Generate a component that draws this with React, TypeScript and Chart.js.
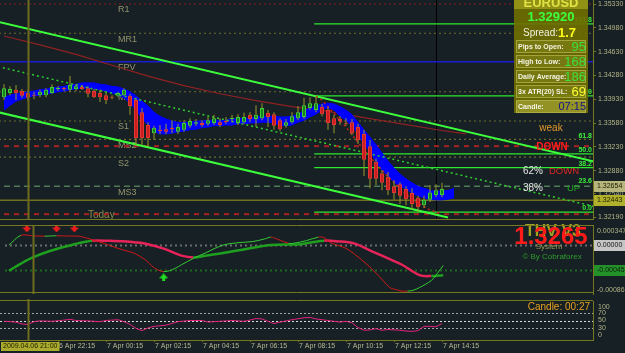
import React, { useEffect, useRef } from 'react';
import { Chart, registerables } from 'chart.js';

Chart.register(...registerables);
const FONT = '"Liberation Sans", Arial, sans-serif';
Chart.defaults.font.family = FONT;

const BG = '#172024';
const OLIVE = '#77771f';
const AXIS_TEXT = '#b2b286';

// ---------------- time axis ----------------
const timeTickBars = [9, 17, 25, 33, 41, 49, 57, 65, 73];
const timeTickLabels = ['6 Apr 22:15', '7 Apr 00:15', '7 Apr 02:15', '7 Apr 04:15', '7 Apr 06:15', '7 Apr 08:15', '7 Apr 10:15', '7 Apr 12:15', '7 Apr 14:15'];
const cursorBar = 4;
const cursorLabel = '2009.04.06 21:00';
const separatorBar = 72;

// ---------------- price (15 min candles) ----------------
const openP = [1.3396,1.3402,1.3407,1.3405,1.3402,1.3399,1.3399,1.3399,1.3402,1.3408,
  1.3409,1.3407,1.3408,1.3411,1.3409,1.3405,1.3402,1.3399,1.3396,1.3398,
  1.3399,1.3398,1.3392,1.3374,1.3355,1.3343,1.3348,1.3349,1.3351,1.3345,
  1.3348,1.3354,1.3357,1.3358,1.3357,1.3358,1.3359,1.3361,1.3364,1.3358,
  1.3359,1.3370,1.3364,1.3365,1.3373,1.3371,1.3362,1.3354,1.3359,1.3365,
  1.3367,1.3380,1.3377,1.3382,1.3377,1.3365,1.3364,1.3358,1.3359,1.3352,
  1.3342,1.3324,1.3301,1.3284,1.3279,1.3265,1.3268,1.3261,1.3255,1.3248,
  1.3237,1.3245,1.3252,1.3252];
const highP = [1.3415,1.3412,1.3414,1.3408,1.3407,1.3404,1.3407,1.3409,1.3415,1.3412,
  1.3411,1.3427,1.3415,1.3414,1.3412,1.3408,1.3407,1.3402,1.3399,1.3404,
  1.3409,1.3401,1.3395,1.3380,1.3359,1.3354,1.3355,1.3357,1.3362,1.3357,
  1.3362,1.3365,1.3364,1.3362,1.3367,1.3370,1.3365,1.3367,1.3370,1.3371,
  1.3373,1.3374,1.3384,1.3387,1.3377,1.3374,1.3365,1.3364,1.3374,1.3383,
  1.3395,1.3396,1.3398,1.3386,1.3382,1.3370,1.3368,1.3365,1.3364,1.3357,
  1.3348,1.3333,1.3306,1.3289,1.3286,1.3274,1.3271,1.3265,1.3262,1.3251,
  1.3251,1.3267,1.3268,1.3270];
const lowP = [1.3392,1.3399,1.3392,1.3395,1.3390,1.3393,1.3396,1.3396,1.3401,1.3405,
  1.3405,1.3404,1.3405,1.3407,1.3396,1.3395,1.3389,1.3386,1.3393,1.3396,
  1.3398,1.3370,1.3326,1.3326,1.3324,1.3333,1.3342,1.3342,1.3343,1.3342,
  1.3345,1.3351,1.3354,1.3352,1.3354,1.3355,1.3352,1.3357,1.3359,1.3355,
  1.3357,1.3359,1.3352,1.3362,1.3352,1.3348,1.3346,1.3351,1.3357,1.3362,
  1.3364,1.3377,1.3374,1.3368,1.3348,1.3343,1.3355,1.3354,1.3340,1.3327,
  1.3280,1.3262,1.3267,1.3259,1.3252,1.3245,1.3239,1.3237,1.3230,1.3227,
  1.3233,1.3242,1.3249,1.3249];
const closeP = [1.3409,1.3408,1.3402,1.3398,1.3395,1.3398,1.3404,1.3407,1.3411,1.3409,
  1.3408,1.3414,1.3412,1.3408,1.3401,1.3396,1.3396,1.3392,1.3395,1.3402,
  1.3407,1.3383,1.3336,1.3336,1.3336,1.3351,1.3346,1.3345,1.3349,1.3352,
  1.3358,1.3361,1.3359,1.3355,1.3362,1.3365,1.3355,1.3359,1.3365,1.3367,
  1.3367,1.3364,1.3370,1.3380,1.3367,1.3354,1.3349,1.3359,1.3368,1.3374,
  1.3384,1.3387,1.3387,1.3371,1.3358,1.3355,1.3361,1.3357,1.3343,1.3333,
  1.3304,1.3276,1.3276,1.3270,1.3259,1.3255,1.3251,1.3246,1.3239,1.3234,
  1.3245,1.3256,1.3259,1.3261];

// blue band (upper / lower edge per bar)
const bandUpper = [1.3396,1.3399,1.3401,1.3402,1.3404,1.3405,1.3407,1.3408,1.3409,1.3411,
  1.3412,1.3414,1.3415,1.3417,1.3417,1.3417,1.3415,1.3414,1.3412,1.3411,
  1.3408,1.3404,1.3398,1.3390,1.3383,1.3374,1.3368,1.3364,1.3361,1.3359,
  1.3359,1.3359,1.3361,1.3361,1.3362,1.3362,1.3362,1.3362,1.3364,1.3364,
  1.3365,1.3365,1.3367,1.3368,1.3368,1.3368,1.3367,1.3367,1.3368,1.3371,
  1.3376,1.3380,1.3383,1.3386,1.3387,1.3386,1.3382,1.3377,1.3370,1.3359,
  1.3348,1.3337,1.3326,1.3314,1.3302,1.3292,1.3283,1.3276,1.3270,1.3265,
  1.3262,1.3259,1.3258,1.3258,1.3259,1.3262];
const bandLower = [1.3377,1.3384,1.3390,1.3393,1.3396,1.3398,1.3399,1.3401,1.3402,1.3404,
  1.3405,1.3407,1.3408,1.3409,1.3409,1.3408,1.3407,1.3405,1.3402,1.3399,
  1.3395,1.3387,1.3377,1.3365,1.3355,1.3346,1.3342,1.3342,1.3343,1.3345,
  1.3346,1.3348,1.3349,1.3351,1.3352,1.3354,1.3354,1.3355,1.3355,1.3357,
  1.3357,1.3358,1.3358,1.3359,1.3359,1.3358,1.3355,1.3354,1.3355,1.3359,
  1.3362,1.3367,1.3371,1.3377,1.3380,1.3377,1.3368,1.3362,1.3354,1.3342,
  1.3327,1.3316,1.3301,1.3289,1.3280,1.3271,1.3265,1.3261,1.3255,1.3251,
  1.3248,1.3246,1.3245,1.3245,1.3246,1.3248];

// slow moving average (dark red)
const maBars = [0, 6, 12, 18, 24, 30, 36, 42, 48, 54, 60, 66, 73, 77];
const maValues = [1.3486, 1.3473, 1.3459, 1.3443, 1.3427, 1.3413, 1.3401, 1.3391, 1.3382, 1.3375, 1.3366, 1.3357, 1.3347, 1.3342];
// red dotted trailing line
const sarBars = [52, 53, 57, 60, 64, 68, 71, 73];
const sarValues = [1.3397, 1.3392, 1.3352, 1.3318, 1.3279, 1.3245, 1.3230, 1.3225];

// price axis
const priceMax = 1.35389;
const priceMin = 1.32154;
const priceTicks = [1.3533, 1.3498, 1.3463, 1.3428, 1.3393, 1.3358, 1.3323, 1.3288, 1.3254, 1.3219];
const priceMarkers = [1.32654, 1.32443];

// pivot levels
const pivotNames = ['R1', 'MR1', 'FPV', 'MS1', 'S1', 'MS2', 'S2', 'MS3'];
const pivotLevels = [1.3533, 1.3490, 1.3448, 1.3404, 1.3361, 1.3334, 1.3308, 1.3265];
const pivotLabelBar = 19;
const redDashLevels = [1.3324, 1.3224];
const dayOpenLevel = 1.32443;
const todayLabel = 'Today';
const todayLabelBar = 14;
const todayLabelPrice = 1.3223;

// trend channel (start bar, start price, end bar, end price)
const channelUpper = [-1, 1.3507, 99, 1.3300];
const channelMid = [-1, 1.3441, 99, 1.3234];
const channelLower = [-1, 1.3374, 74, 1.3219];

// fibonacci
const fibZero = 1.3227;
const fibFull = 1.3398;
const fibRatios = [0, 23.6, 38.2, 50, 61.8, 100, 161.8];
const fibLineRatios = [0, 38.2, 50, 100, 161.8];
const fibStartBar = 51.7;

// info panel
const symbol = 'EURUSD';
const quoteText = '1.32920';
const spreadLabel = 'Spread:';
const spreadText = '1.7';
const infoLabels = ['Pips to Open:', 'High to Low:', 'Daily Average:', '3x ATR(20) SL:', 'Candle:'];
const infoValues = ['95', '168', '186', '69', '07:15'];

// ---------------- oscillator ----------------
const oscMax = 0.000357;
const oscMin = -0.000869;
const fastBars = [0,2,4,6,7,8,10,12,14,16,18,20,21,22,23,24,25,26,27,28,29,31,33,36,39,41,43,44,45,47,48,50,52,53,54,56,57,59,61,63,64,65,66,67,68,69,71,72,73];
const fastValues = [0.0000,0.000173,0.000165,0.000158,0.000162,0.000166,0.000160,0.000155,0.000094,0.000030,
  -0.000047,-0.000110,-0.000141,-0.000200,-0.000267,-0.000370,-0.000440,-0.000471,-0.000455,-0.000410,
  -0.000350,-0.000236,-0.000141,0.000000,0.000047,0.000063,0.000110,0.000141,0.000110,0.000031,
  0.000035,0.000080,0.000141,0.000130,0.000047,-0.000030,-0.000079,-0.000236,-0.000424,-0.000644,
  -0.000754,-0.000790,-0.000816,-0.000818,-0.000801,-0.000754,-0.000628,-0.000502,-0.000361];
const slowBars = [0,2,4,7,11,14,17,19,21,23,26,29,31,33,36,41,44,49,51,53,55,58,61,64,66,69,71,73];
const slowValues = [-0.000455,-0.000330,-0.000220,-0.000100,0.000016,0.000079,0.000075,0.000070,0.000050,0.000024,
  -0.000063,-0.000188,-0.000220,-0.000190,-0.000141,-0.000047,0.000000,0.000016,0.000050,0.000079,
  0.000070,0.000031,-0.000110,-0.000250,-0.000345,-0.000534,-0.000550,-0.000534];
const oscLevels = [0, -0.00045];
const oscAxisValues = [0.000347, -0.00086];
const oscAxisText = ['0.000347', '-0.00086'];
const oscMarkerValues = [0, -0.00045];
const oscMarkerText = ['0.00000', '-0.00045'];
const sellArrowBars = [3, 8, 11];
const sellArrowValue = 0.000295;
const buyArrowBars = [26];
const buyArrowValue = -0.000574;
const systemTitle = 'THV V3';
const systemPrice = '1.3265';
const systemSub = 'System';
const systemCredit = '© By Cobraforex';

// ---------------- RSI ----------------
const rsiBars = [0,2,3,4,5,6,8,10,11,12,14,16,17,19,20,21,22,23,24,25,27,29,31,33,34,36,38,40,41,42,43,45,46,48,50,51,52,54,56,57,58,59,60,61,62,63,64,66,67,68,69,70,71,72,73];
const rsiValues = [48,46,41,40,47,49,48,51,53,50,49,47,50,52,47,40,30,24,31,35,38,47,50,50,46,48,50,48,51,55,54,42,46,52,57,58,54,50,46,48,44,32,25,26,29,25,27,25,23,22,24,35,35,34,42];
const rsiLevels = [70, 50, 30];
const rsiAxisValues = [100, 70, 50, 30, 0];
const candleTimer = 'Candle: 00:27';

// ---------------- geometry ----------------
const BAR_PX = 6;
const PLOT_W = 593;
const X_MIN = -4 / BAR_PX;
const X_MAX = X_MIN + PLOT_W / BAR_PX;
const AXIS_W = 32;

const pts = (xs: number[], ys: number[]) => xs.map((x, i) => ({ x, y: ys[i] }));
const seg = (s: number[]) => [{ x: s[0], y: s[1] }, { x: s[2], y: s[3] }];
const hline = (v: number, from = X_MIN - 1) => [{ x: from, y: v }, { x: X_MAX + 1, y: v }];
const fibLevel = (r: number) => fibZero + (fibFull - fibZero) * r / 100;

function line(data: any[], color: string, width: number, dash: number[] = [], order = 5, extra: any = {}) {
  return { type: 'line', data, borderColor: color, borderWidth: width, borderDash: dash, pointRadius: 0, fill: false, tension: 0, order, ...extra };
}

function txt(ctx: any, s: string, x: number, y: number, size: number, color: string, o: any = {}) {
  ctx.font = `${o.bold ? 'bold ' : ''}${size}px ${FONT}`;
  ctx.fillStyle = color;
  ctx.textAlign = o.align || 'left';
  ctx.textBaseline = o.baseline || 'middle';
  ctx.fillText(s, x, y);
}

function vline(ctx: any, x: number, top: number, bottom: number, color: string, width: number) {
  ctx.save();
  ctx.strokeStyle = color;
  ctx.lineWidth = width;
  ctx.beginPath();
  ctx.moveTo(x, top);
  ctx.lineTo(x, bottom);
  ctx.stroke();
  ctx.restore();
}

function hrule(ctx: any, y: number, left: number, right: number, color: string, width: number, dash: number[] = []) {
  ctx.save();
  ctx.strokeStyle = color;
  ctx.lineWidth = width;
  ctx.setLineDash(dash);
  ctx.beginPath();
  ctx.moveTo(left, y);
  ctx.lineTo(right, y);
  ctx.stroke();
  ctx.restore();
}

function axisBox(ctx: any, a: any, y: number, text: string, bg: string, fg: string) {
  ctx.fillStyle = bg;
  ctx.fillRect(a.right + 1, Math.round(y) - 5, AXIS_W, 11);
  txt(ctx, text, a.right + 4, Math.round(y) + 0.5, 7, fg);
}

const bgPlugin = {
  id: 'bgFill',
  beforeDraw(chart: any) {
    const { ctx, width, height } = chart;
    ctx.save();
    ctx.fillStyle = BG;
    ctx.fillRect(0, 0, width, height);
    ctx.restore();
  },
};

function xScaleHidden() {
  return { type: 'linear', min: X_MIN, max: X_MAX, display: false, offset: false };
}

function yAxisBase(min: number, max: number, showTicks: boolean) {
  return {
    type: 'linear',
    position: 'right',
    min,
    max,
    afterFit: (s: any) => { s.width = AXIS_W; s.paddingTop = 0; s.paddingBottom = 0; },
    ticks: { display: showTicks, color: AXIS_TEXT, font: { size: 7 }, padding: 2, autoSkip: false },
    grid: { display: showTicks, drawOnChartArea: false, color: OLIVE, tickLength: 3 },
    border: { display: true, color: OLIVE, width: 1 },
  };
}

const baseOpts = {
  responsive: false,
  animation: false,
  devicePixelRatio: 1,
  events: [],
  layout: { padding: 0 },
  plugins: { legend: { display: false }, tooltip: { enabled: false } },
};

function makeMain(canvas: HTMLCanvasElement) {
  const idx = openP.map((_, i) => i);
  const up = (i: number) => closeP[i] >= openP[i];
  const bandX = bandUpper.map((_, i) => i);
  const pivotColors = ['#8e1f1f', '#6d6d2c', '#1b1bd2', '#6d6d2c', '#6d6d2c', '#6d6d2c', '#6d6d2c', '#4f7a55'];
  const pivotDash = [[2, 3], [2, 3], [], [2, 3], [2, 3], [2, 3], [2, 3], [6, 4]];
  const pivotWidth = [1.2, 1.2, 1.5, 1.2, 1.2, 1.2, 1.2, 1.6];

  const datasets: any[] = [
    ...pivotLevels.map((lv, i) => line(hline(lv), pivotColors[i], pivotWidth[i], pivotDash[i], 20)),
    ...redDashLevels.map((lv) => line(hline(lv), '#a82222', 2, [5, 5], 19)),
    line(hline(dayOpenLevel), '#6f6f1e', 1.5, [], 19),
    ...fibLineRatios.map((r) => line(hline(fibLevel(r), fibStartBar), '#2ee82e', 1.2, [], 18)),
    line(pts(maBars, maValues), '#8e2222', 1.2, [], 15),
    { type: 'line', data: pts(bandX, bandUpper), borderColor: '#0000ff', borderWidth: 1, backgroundColor: '#0000ff', fill: '+1', pointRadius: 0, tension: 0.2, order: 6 },
    { type: 'line', data: pts(bandX, bandLower), borderColor: '#0000ff', borderWidth: 1, pointRadius: 0, fill: false, tension: 0.2, order: 6 },
    line(seg(channelUpper), '#3cff3c', 2, [], 3),
    line(seg(channelLower), '#3cff3c', 2, [], 3),
    line(seg(channelMid), '#2fcf2f', 1.5, [2, 3], 3),
    line(pts(sarBars, sarValues), '#c42222', 1.5, [2, 3], 2),
    {
      type: 'bar', data: idx.map((i) => ({ x: i, y: [lowP[i], highP[i]] })),
      backgroundColor: '#9a9a2c', barThickness: 1, grouped: false, order: 1, minBarLength: 1, inflateAmount: 0,
    },
    {
      type: 'bar', data: idx.map((i) => ({ x: i, y: [openP[i], closeP[i]] })),
      backgroundColor: idx.map((i) => (up(i) ? '#1b7f1b' : '#c81e1e')),
      borderColor: idx.map((i) => (up(i) ? '#3ccc3c' : '#e43434')),
      borderWidth: 1, borderSkipped: false, barThickness: 4, grouped: false, order: 0, minBarLength: 1, inflateAmount: 0,
    },
  ];

  const decor = {
    id: 'mainDecor',
    beforeDatasetsDraw(chart: any) {
      const { ctx, chartArea: a, scales } = chart;
      const xs = scales.x, ys = scales.y;
      ctx.save();
      vline(ctx, Math.round(xs.getPixelForValue(separatorBar)) + 0.5, a.top, a.bottom, '#000000', 1);
      pivotNames.forEach((n, i) => txt(ctx, n, xs.getPixelForValue(pivotLabelBar), ys.getPixelForValue(pivotLevels[i]) + 6, 9, '#93936c'));
      txt(ctx, todayLabel, xs.getPixelForValue(todayLabelBar), ys.getPixelForValue(todayLabelPrice), 10, '#8c8c4c');
      ctx.restore();
    },
    afterDatasetsDraw(chart: any) {
      const { ctx, chartArea: a, scales } = chart;
      const xs = scales.x, ys = scales.y;
      ctx.save();
      vline(ctx, Math.round(xs.getPixelForValue(cursorBar)) + 0.5, a.top, a.bottom, '#6c6c1c', 2);
      // fib labels
      fibRatios.forEach((r) => txt(ctx, r.toFixed(1), a.right - 1, ys.getPixelForValue(fibLevel(r)) - 4, 7, '#3cf03c', { align: 'right', bold: true }));
      // signal texts
      const R = a.right;
      txt(ctx, 'weak', R - 42, 128, 10, '#e39a2a', { align: 'center' });
      txt(ctx, 'DOWN', R - 41, 147, 10, '#ff1c1c', { align: 'center', bold: true });
      txt(ctx, '62%', R - 70, 171, 10, '#e6e6e6');
      txt(ctx, 'DOWN', R - 44, 171, 9.5, '#e32424');
      txt(ctx, '38%', R - 70, 188, 10, '#e6e6e6');
      txt(ctx, 'UP', R - 26, 188, 9.5, '#22aa22');
      // info box
      const x1 = R - 5, x0 = x1 - 74, w = x1 - x0;
      ctx.fillStyle = 'rgba(112,112,0,0.9)';
      ctx.fillRect(x0, 0, w, 113);
      ctx.fillStyle = 'rgba(150,150,24,0.9)';
      ctx.fillRect(x0, 0, w, 9);
      txt(ctx, symbol, x0 + w / 2, 7, 13, '#e2e244', { align: 'center', bold: true, baseline: 'alphabetic' });
      txt(ctx, quoteText, x0 + w / 2, 17.5, 13, '#3cff3c', { align: 'center', bold: true });
      txt(ctx, spreadLabel, x0 + 9, 33, 10, '#f2f2e0');
      txt(ctx, spreadText, x0 + 44, 33, 13, '#ffff1a', { bold: true });
      const valColors = ['#3ce03c', '#3ce03c', '#3ce03c', '#ffff33', '#12128c'];
      infoLabels.forEach((lab, i) => {
        const top = 40 + i * 15;
        ctx.fillStyle = i === 4 ? 'rgba(176,176,60,0.6)' : 'rgba(146,146,36,0.4)';
        ctx.fillRect(x0 + 2, top, w - 4, 13);
        ctx.strokeStyle = 'rgba(182,182,80,0.7)';
        ctx.lineWidth = 1;
        ctx.strokeRect(x0 + 2.5, top + 0.5, w - 5, 12);
        txt(ctx, lab, x0 + 4, top + 7, 7, '#f4f4e4', { bold: true });
        txt(ctx, infoValues[i], x1 - 2, top + 7, i === 4 ? 11 : 13, valColors[i], { align: 'right' });
      });
      ctx.restore();
    },
    afterDraw(chart: any) {
      const { ctx, chartArea: a, scales } = chart;
      const ys = scales.y;
      ctx.save();
      const bgs = ['#b6b67c', '#b0b02a'];
      priceMarkers.forEach((v, i) => axisBox(ctx, a, ys.getPixelForValue(v), v.toFixed(5), bgs[i], '#1a1a00'));
      hrule(ctx, a.bottom - 0.5, 0, a.right, OLIVE, 1);
      ctx.restore();
    },
  };

  const y: any = yAxisBase(priceMin, priceMax, true);
  y.afterBuildTicks = (s: any) => { s.ticks = priceTicks.map((v) => ({ value: v })); };
  y.ticks.callback = (v: any) => Number(v).toFixed(5);

  return new Chart(canvas, {
    type: 'bar',
    data: { datasets },
    options: { ...baseOpts, scales: { x: xScaleHidden(), y } } as any,
    plugins: [bgPlugin, decor],
  } as any);
}

function arrowImage(color: string, down: boolean) {
  const c = document.createElement('canvas');
  c.width = 9;
  c.height = 8;
  const g = c.getContext('2d')!;
  g.fillStyle = color;
  g.beginPath();
  if (down) {
    g.fillRect(3, 0, 3, 4);
    g.moveTo(0, 3); g.lineTo(9, 3); g.lineTo(4.5, 8);
  } else {
    g.fillRect(3, 4, 3, 4);
    g.moveTo(0, 5); g.lineTo(9, 5); g.lineTo(4.5, 0);
  }
  g.closePath();
  g.fill();
  return c;
}

function makeOsc(canvas: HTMLCanvasElement) {
  const rising = (c: any) => c.p1.parsed.y >= c.p0.parsed.y;
  const datasets: any[] = [
    { type: 'line', data: pts(slowBars, slowValues), borderColor: '#1f9f1f', borderWidth: 2.5, pointRadius: 0, tension: 0.35, order: 2,
      segment: { borderColor: (c: any) => (rising(c) ? '#1f9f1f' : '#e6245a') } },
    { type: 'line', data: pts(fastBars, fastValues), borderColor: '#33cc33', borderWidth: 1, pointRadius: 0, tension: 0.35, order: 1,
      segment: { borderColor: (c: any) => (rising(c) ? '#33cc33' : '#d01818') } },
    { type: 'scatter', data: sellArrowBars.map((b) => ({ x: b, y: sellArrowValue })), pointStyle: arrowImage('#ee1c1c', true), pointRadius: 4, order: 0 },
    { type: 'scatter', data: buyArrowBars.map((b) => ({ x: b, y: buyArrowValue })), pointStyle: arrowImage('#22dd22', false), pointRadius: 4, order: 0 },
  ];
  const decor = {
    id: 'oscDecor',
    beforeDatasetsDraw(chart: any) {
      const { ctx, chartArea: a, scales } = chart;
      const ys = scales.y;
      const cols = ['#6c6c6c', '#1d6b1d'];
      oscLevels.forEach((v, i) => hrule(ctx, Math.round(ys.getPixelForValue(v)) + 0.5, a.left, a.right, cols[i], 2, [2, 3]));
    },
    afterDatasetsDraw(chart: any) {
      const { ctx, chartArea: a, scales } = chart;
      const xs = scales.x;
      ctx.save();
      vline(ctx, Math.round(xs.getPixelForValue(cursorBar)) + 0.5, a.top, a.bottom, '#6c6c1c', 2);
      const R = a.right;
      txt(ctx, systemTitle, R - 40, 12, 16, '#a3a322', { align: 'center', bold: true });
      txt(ctx, systemPrice, R - 42, 17, 24, '#ff1a1a', { align: 'center', bold: true });
      txt(ctx, systemSub, R - 44, 27, 8, '#8f9a52', { align: 'center' });
      txt(ctx, systemCredit, R - 41, 37, 8, '#2e9e2e', { align: 'center' });
      ctx.restore();
    },
    afterDraw(chart: any) {
      const { ctx, chartArea: a, scales } = chart;
      const ys = scales.y;
      ctx.save();
      oscAxisValues.forEach((v, i) => {
        const y = Math.min(Math.max(ys.getPixelForValue(v), a.top + 6), a.bottom - 4);
        txt(ctx, oscAxisText[i], a.right + 4, y, 7, AXIS_TEXT);
      });
      const bgs = ['#c6c6c6', '#24902a'];
      const fgs = ['#111111', '#0b1f0b'];
      oscMarkerValues.forEach((v, i) => axisBox(ctx, a, ys.getPixelForValue(v), oscMarkerText[i], bgs[i], fgs[i]));
      hrule(ctx, a.top + 0.5, 0, a.right, OLIVE, 1);
      hrule(ctx, a.bottom - 1.5, 0, a.right, OLIVE, 1);
      ctx.restore();
    },
  };
  return new Chart(canvas, {
    type: 'line',
    data: { datasets },
    options: { ...baseOpts, scales: { x: xScaleHidden(), y: yAxisBase(oscMin, oscMax, false) } } as any,
    plugins: [bgPlugin, decor],
  } as any);
}

function makeRsi(canvas: HTMLCanvasElement) {
  const datasets: any[] = [
    { type: 'line', data: pts(rsiBars, rsiValues), borderColor: '#e2207e', borderWidth: 1, pointRadius: 0, tension: 0, order: 0 },
  ];
  const decor = {
    id: 'rsiDecor',
    beforeDatasetsDraw(chart: any) {
      const { ctx, chartArea: a, scales } = chart;
      const ys = scales.y;
      rsiLevels.forEach((v) => hrule(ctx, Math.round(ys.getPixelForValue(v)) + 0.5, a.left, a.right, v === 50 ? '#dcdcdc' : '#a4a4a4', 1, [2, 2]));
    },
    afterDatasetsDraw(chart: any) {
      const { ctx, chartArea: a, scales } = chart;
      const xs = scales.x;
      ctx.save();
      vline(ctx, Math.round(xs.getPixelForValue(cursorBar)) + 0.5, 0, a.bottom, '#6c6c1c', 2);
      txt(ctx, candleTimer, a.right - 3, 8, 10, '#e8a020', { align: 'right' });
      ctx.restore();
    },
    afterDraw(chart: any) {
      const { ctx, chartArea: a, scales } = chart;
      const xs = scales.x, ys = scales.y;
      ctx.save();
      rsiAxisValues.forEach((v) => {
        const y = Math.min(Math.max(ys.getPixelForValue(v), a.top + 6), a.bottom - 5);
        txt(ctx, String(v), a.right + 5, y, 7, AXIS_TEXT);
      });
      hrule(ctx, a.top - 0.5, 0, a.right, OLIVE, 1);
      // cursor time label
      ctx.font = `7px ${FONT}`;
      const tw = ctx.measureText(cursorLabel).width + 4;
      const cx = xs.getPixelForValue(cursorBar);
      const left = Math.max(1, Math.round(cx - tw / 2));
      ctx.fillStyle = '#aaaa2c';
      ctx.fillRect(left, a.bottom + 2, tw, 9);
      txt(ctx, cursorLabel, left + tw / 2, a.bottom + 6.5, 7, '#1e1e00', { align: 'center' });
      ctx.restore();
    },
  };
  const x: any = {
    type: 'linear', min: X_MIN, max: X_MAX, offset: false,
    afterFit: (s: any) => { s.height = 13; s.paddingLeft = 0; s.paddingRight = 0; },
    afterBuildTicks: (s: any) => { s.ticks = timeTickBars.map((v) => ({ value: v })); },
    ticks: { callback: (_v: any, i: number) => timeTickLabels[i], color: '#b8b890', font: { size: 7 }, align: 'start', padding: 0, maxRotation: 0, minRotation: 0, autoSkip: false, labelOffset: 1 },
    grid: { drawOnChartArea: false, color: OLIVE, tickLength: 2 },
    border: { display: true, color: OLIVE, width: 1 },
  };
  return new Chart(canvas, {
    type: 'line',
    data: { datasets },
    options: { ...baseOpts, layout: { padding: { top: 2 } }, scales: { x, y: yAxisBase(0, 100, false) } } as any,
    plugins: [bgPlugin, decor],
  } as any);
}

export default function App() {
  const mainRef = useRef<HTMLCanvasElement>(null);
  const oscRef = useRef<HTMLCanvasElement>(null);
  const rsiRef = useRef<HTMLCanvasElement>(null);
  useEffect(() => {
    document.body.style.margin = '0';
    const charts = [makeMain(mainRef.current!), makeOsc(oscRef.current!), makeRsi(rsiRef.current!)];
    return () => charts.forEach((c) => c.destroy());
  }, []);
  return (
    <div style={{ position: 'absolute', left: 0, top: 0, width: 625, height: 353, background: BG, overflow: 'hidden' }}>
      <canvas ref={mainRef} width={625} height={220} style={{ position: 'absolute', left: 0, top: 0 }} />
      <canvas ref={oscRef} width={625} height={79} style={{ position: 'absolute', left: 0, top: 220 }} />
      <canvas ref={rsiRef} width={625} height={54} style={{ position: 'absolute', left: 0, top: 299 }} />
    </div>
  );
}
